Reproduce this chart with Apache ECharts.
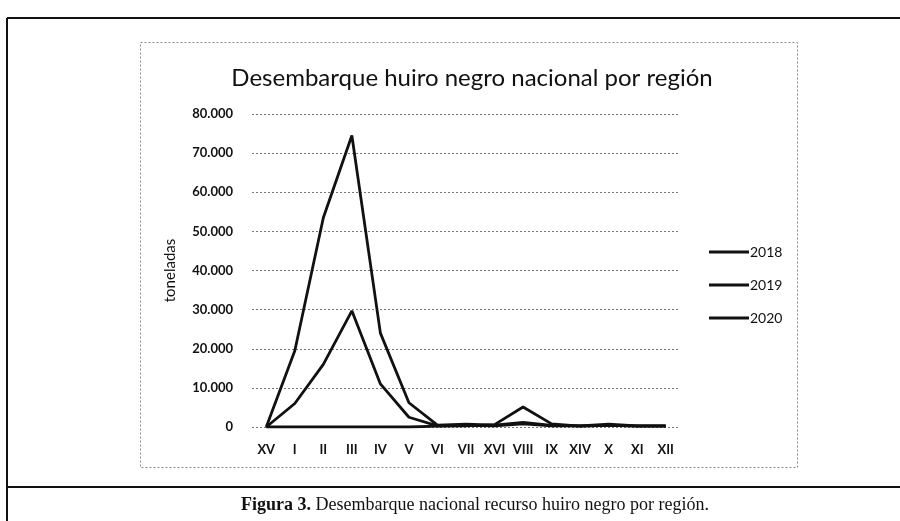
<!DOCTYPE html>
<html>
<head>
<meta charset="utf-8">
<script src="https://cdn.jsdelivr.net/npm/echarts@6/dist/echarts.min.js"></script>
<style>
html,body{margin:0;padding:0;background:#fff;}
#chart{width:900px;height:521px;}
</style>
</head>
<body>
<div id="chart"></div>
<script>
var categories = ['XV','I','II','III','IV','V','VI','VII','XVI','VIII','IX','XIV','X','XI','XII'];
var s2018 = [0, 19500, 53500, 74500, 24000, 6200, 500, 700, 500, 1200, 400, 300, 700, 300, 300];
var s2019 = [0, 6000, 16000, 29700, 11000, 2500, 300, 400, 300, 800, 300, 300, 400, 300, 300];
var s2020 = [0, 0, 0, 0, 0, 0, 200, 300, 600, 5100, 800, 200, 400, 200, 200];
var seriesNames = ['2018','2019','2020'];
var yTicks = [0, 10000, 20000, 30000, 40000, 50000, 60000, 70000, 80000];

var chart = echarts.init(document.getElementById('chart'), null, {renderer:'canvas'});
function fmt(v){ return v === 0 ? '0' : String(v).replace(/\B(?=(\d{3})+(?!\d))/g, '.'); }
var lineStyle = {color:'#111', width:2.8};
function mk(name, data){
  return {name:name, type:'line', data:data, symbol:'none', smooth:false,
    lineStyle:lineStyle, itemStyle:{color:'#111'}};
}
chart.setOption({
  backgroundColor:'#fff',
  animation:false,
  title:{
    text:'Desembarque huiro negro nacional por región',
    left:467, top:61, textAlign:'center',
    textStyle:{fontFamily:'Lato', fontSize:24, fontWeight:'normal', color:'#111'}
  },
  legend:{
    orient:'vertical', left:704, top:240,
    icon:'rect', itemWidth:40, itemHeight:3, itemGap:19,
    data:seriesNames,
    textStyle:{fontFamily:'Lato', fontSize:14, lineHeight:14, color:'#111', padding:[0,0,0,-4]}
  },
  grid:{left:252, right:220, top:114, bottom:94, containLabel:false},
  xAxis:{
    type:'category', data:categories, boundaryGap:true,
    axisLine:{show:false}, axisTick:{show:false},
    axisLabel:{fontFamily:'Lato', fontSize:13, fontWeight:'bold', color:'#111', margin:16}
  },
  yAxis:{
    type:'value', min:yTicks[0], max:yTicks[yTicks.length-1], interval:10000,
    name:'toneladas', nameLocation:'middle', nameGap:74, nameRotate:90,
    nameTextStyle:{fontFamily:'Lato', fontSize:15, color:'#111'},
    axisLine:{show:false}, axisTick:{show:false},
    axisLabel:{fontFamily:'Lato', fontSize:13, fontWeight:'bold', color:'#111', margin:19, formatter:fmt},
    splitLine:{lineStyle:{color:'#777', type:[2,2], width:1}}
  },
  series:[mk(seriesNames[0], s2018), mk(seriesNames[1], s2019), mk(seriesNames[2], s2020)],
  graphic:[
    {type:'rect', shape:{x:140.5, y:42.5, width:657, height:425}, style:{fill:null, stroke:'#888', lineWidth:1, lineDash:[2,2]}, silent:true},
    {type:'line', shape:{x1:7, y1:18, x2:900, y2:18}, style:{stroke:'#111', lineWidth:2}},
    {type:'line', shape:{x1:7, y1:18, x2:7, y2:521}, style:{stroke:'#111', lineWidth:2}},
    {type:'line', shape:{x1:7, y1:487, x2:900, y2:487}, style:{stroke:'#111', lineWidth:2}},
    {type:'text', x:475, y:505, style:{
      text:'{b|Figura 3.} Desembarque nacional recurso huiro negro por región.',
      font:'18px "Liberation Serif"', fill:'#111', align:'center', verticalAlign:'middle',
      rich:{b:{fontFamily:'Liberation Serif', fontSize:18, fontWeight:'bold', fill:'#111'}}
    }}
  ]
});
</script>
</body>
</html>
